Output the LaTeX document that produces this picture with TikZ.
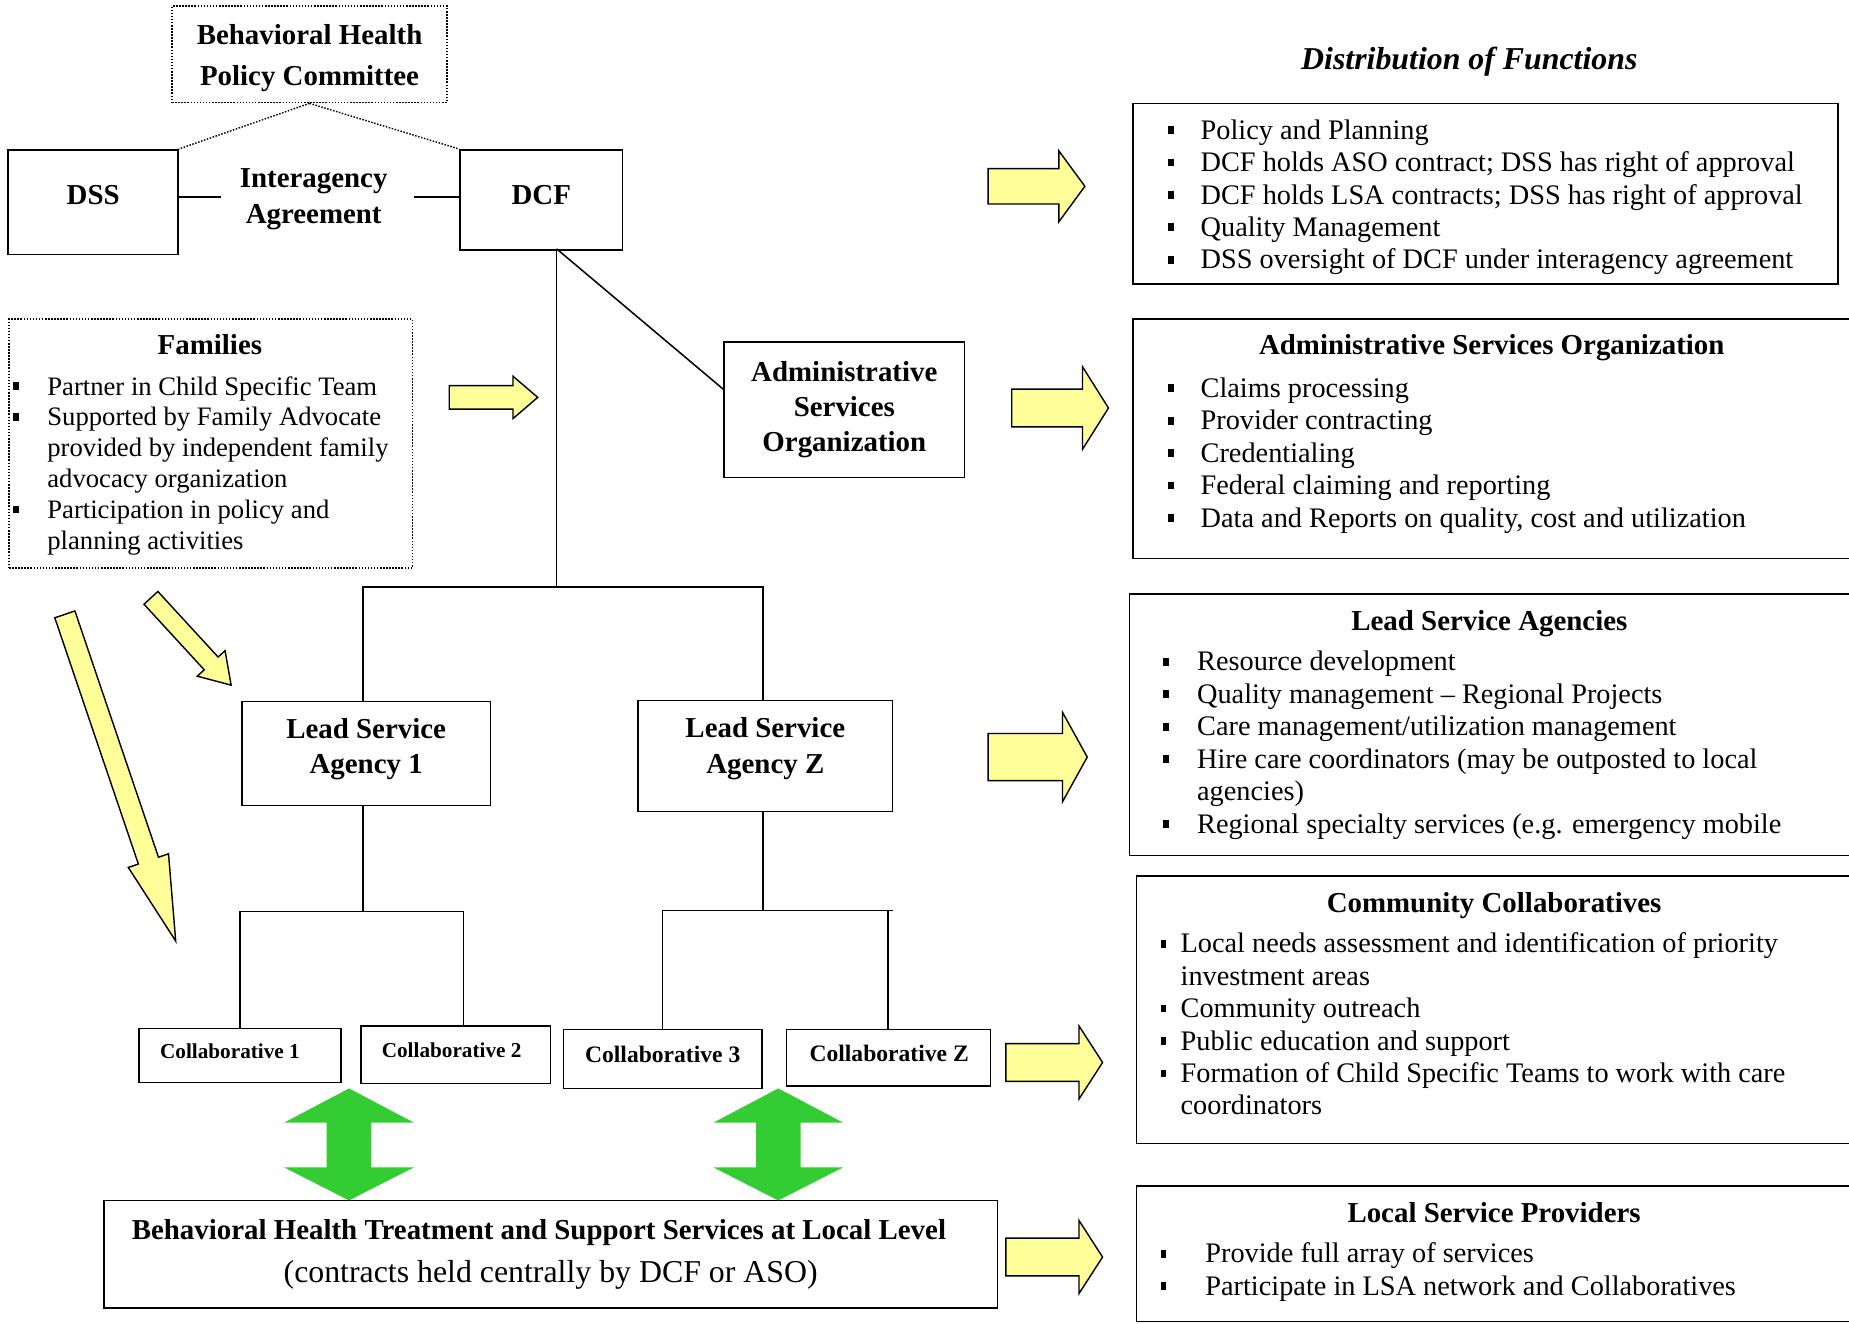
\documentclass[tikz,border=0pt]{standalone}
\usepackage{fontspec}
\setmainfont{Liberation Serif}
\usetikzlibrary{calc}
\definecolor{ayel}{HTML}{FFFF99}
\definecolor{agrn}{HTML}{33CC33}
\newcommand{\bsq}{\rule[4.5pt]{5pt}{6.5pt}}
\newcommand{\yarr}[6]{%
  \coordinate (#1t) at #2;
  \coordinate (#1p) at #3;
  \coordinate (#1h) at ($(#1p)!#6!(#1t)$);
  \draw[yarrow] ($(#1t)!#4!90:(#1p)$) -- ($(#1h)!#4!90:(#1p)$) -- ($(#1h)!#5!90:(#1p)$) -- (#1p) -- ($(#1h)!#5!-90:(#1p)$) -- ($(#1h)!#4!-90:(#1p)$) -- ($(#1t)!#4!-90:(#1p)$) -- cycle;}
\newcommand{\garr}[2]{%
  \coordinate (#1) at (#2,970);
  \fill[agrn] ($(#1)+(0,-47)$) -- ++(55,29) -- ++(-36,0) -- ++(0,38) -- ++(36,0) -- ($(#1)+(0,48)$) -- ++(-55,-28) -- ++(36,0) -- ++(0,-38) -- ++(-36,0) -- cycle;}
\begin{document}
\begin{tikzpicture}[x=1pt,y=-1pt,
  box/.style={draw, line width=1.3pt, inner sep=0pt, align=center},
  dotbox/.style={draw, line width=1.3pt, dash pattern=on 1.3pt off 1.3pt, inner sep=0pt, align=center},
  dotline/.style={line width=1.2pt, dash pattern=on 1.3pt off 1.3pt},
  conn/.style={line width=1.3pt},
  bf/.style={font=\fontsize{24.5}{30}\selectfont\bfseries, align=center, inner sep=0pt},
  body/.style={font=\fontsize{24}{27.5}\selectfont},
  lst/.style={anchor=base west, inner sep=0pt, body},
  ttl/.style={anchor=base, inner sep=0pt, bf},
  cs/.style={font=\fontsize{18}{22}\selectfont\bfseries, inner sep=0pt},
  cl/.style={font=\fontsize{20}{24}\selectfont\bfseries, inner sep=0pt},
  yarrow/.style={fill=ayel, draw=black, line width=1.2pt, line join=miter}]
\useasboundingbox (0,0) rectangle (1568,1122);

% ---- left org chart ----
\node[dotbox, minimum width=233pt, minimum height=82pt] (bhpc) at (262.5,46) {};
\node[bf, font=\fontsize{24.5}{35}\selectfont\bfseries] (bhpct) at (262.5,49.5) {Behavioral Health\\Policy Committee};
\node[box, minimum width=144pt, minimum height=89pt] (dss) at (79,171.5) {};
\node[bf] (dsst) at (79,165.5) {DSS};
\node[box, minimum width=138pt, minimum height=85pt] (dcf) at (459,169.5) {};
\node[bf] (dcft) at (459,165.5) {DCF};
\coordinate (iaw) at (187,167);
\coordinate (iae) at (351,167);
\node[bf] (ia) at (266,169) {Interagency\\Agreement};
\draw[conn] (iaw) -- (iaw -| dss.east);
\draw[conn] (iae) -- (iae -| dcf.west);
\draw[dotline] (bhpc.south) -- (dss.north east);
\draw[dotline] (bhpc.south) -- (dcf.north west);

\node[box, font=\fontsize{24.5}{29.5}\selectfont\bfseries, minimum width=204pt, minimum height=115pt] (aso) at (716,347.5) {Administrative\\Services\\Organization};
\node[box, minimum width=211pt, minimum height=88pt] (lsa1) at (310.5,639) {};
\node[bf] (lsa1t) at (310.5,635.5) {Lead Service\\Agency 1};
\node[box, minimum width=216pt, minimum height=94pt] (lsaz) at (649,641) {};
\node[bf] (lsazt) at (649,635) {Lead Service\\Agency Z};

\coordinate (dcfb) at (472,211);
\coordinate (bus) at (472,498);
\draw[conn] (dcfb) -- (bus);
\draw[conn] (dcfb) -- ($(aso.north west)!0.35!(aso.south west)$);
\coordinate (lsa1top) at (308,595);
\coordinate (lsaztop) at (647,594);
\draw[conn] (lsa1top) |- (bus) -| (lsaztop);

\node[box, minimum width=171pt, minimum height=46pt] (c1) at (203.5,895) {};
\node[cs] (c1t) at (195,891.5) {Collaborative 1};
\node[box, minimum width=161pt, minimum height=49pt] (c2) at (386.5,894.5) {};
\node[cs] (c2t) at (383,890.5) {Collaborative 2};
\node[box, minimum width=168pt, minimum height=50pt] (c3) at (562,898) {};
\node[cl] (c3t) at (562,894) {Collaborative 3};
\node[box, minimum width=173pt, minimum height=48pt] (cz) at (753.5,897) {};
\node[cl] (czt) at (754,893.5) {Collaborative Z};

\coordinate (b1) at (308,773);
\coordinate (bz) at (647,772);
\coordinate (c2top) at (393,870);
\coordinate (cztop) at (753,873);
\draw[conn] (lsa1top |- lsa1.south) -- (b1);
\draw[conn] (c1.north) |- (b1) -| (c2top);
\draw[conn] (lsaztop |- lsaz.south) -- (bz);
\draw[conn] (c3.north) |- (bz) -- ++(110,0);
\draw[conn] (cztop) -- (cztop |- bz);

\node[box, minimum width=758pt, minimum height=91pt] (bhts) at (467,1063.5) {};
\node[ttl] (bt1) at (457,1051) {Behavioral Health Treatment and Support Services at Local Level};
\node[anchor=base, inner sep=0pt, font=\fontsize{27}{30}\selectfont] (bt2) at (467,1088) {(contracts held centrally by DCF or ASO)};

\garr{g1}{296}
\garr{g2}{660}

% ---- families ----
\node[dotbox, minimum width=342pt, minimum height=211pt, anchor=north west] (fam) at (7,270) {};
\node[ttl] (famt) at (178,301) {Families};
\node[anchor=base west, inner sep=0pt, font=\fontsize{22.6}{26.2}\selectfont] (faml) at (11,335) {\begin{tabular}[t]{@{}p{29pt}@{}l@{}}
\bsq & Partner in Child Specific Team\\
\bsq & Supported by Family Advocate\\
 & provided by independent family\\
 & advocacy organization\\
\bsq & Participation in policy and\\
 & planning activities
\end{tabular}};

% ---- yellow arrows ----
\yarr{a1}{(838,158)}{(920,158)}{15pt}{30pt}{22pt}
\yarr{a2}{(381,337)}{(456,337)}{10pt}{18pt}{21pt}
\yarr{a3}{(858,346)}{(940,346)}{16pt}{35pt}{22pt}
\yarr{a4}{(838,642)}{(922,642)}{20pt}{38pt}{21pt}
\yarr{a5}{(853,901)}{(935,901)}{16pt}{31pt}{20pt}
\yarr{a6}{(853,1066)}{(935,1066)}{16pt}{31pt}{20pt}
\yarr{a7}{(128,507)}{(196,581)}{8pt}{16pt}{25pt}
\yarr{a8}{(55,521)}{(149,798)}{9pt}{18pt}{72pt}

% ---- right column ----
\node[anchor=base, inner sep=0pt, font=\fontsize{27}{30}\selectfont\bfseries\itshape] (dof) at (1246,59) {Distribution of Functions};

\node[box, minimum width=598pt, minimum height=153pt, anchor=north west] (r1) at (960,87) {};
\node[lst] (r1l) at (990,118) {\begin{tabular}[t]{@{}p{28pt}@{}l@{}}
\bsq & Policy and Planning\\
\bsq & DCF holds ASO contract; DSS has right of approval\\
\bsq & DCF holds LSA contracts; DSS has right of approval\\
\bsq & Quality Management\\
\bsq & DSS oversight of DCF under interagency agreement
\end{tabular}};

\node[box, minimum width=620pt, minimum height=203pt, anchor=north west] (r2) at (960,270) {};
\node[ttl] (r2t) at (1265,301) {Administrative Services Organization};
\node[lst] (r2l) at (990,337) {\begin{tabular}[t]{@{}p{28pt}@{}l@{}}
\bsq & Claims processing\\
\bsq & Provider contracting\\
\bsq & Credentialing\\
\bsq & Federal claiming and reporting\\
\bsq & Data and Reports on quality, cost and utilization
\end{tabular}};

\node[box, minimum width=623pt, minimum height=222pt, anchor=north west] (r3) at (957,503) {};
\node[ttl] (r3t) at (1263,535) {Lead Service Agencies};
\node[lst] (r3l) at (986,569) {\begin{tabular}[t]{@{}p{29pt}@{}l@{}}
\bsq & Resource development\\
\bsq & Quality management -- Regional Projects\\
\bsq & Care management/utilization management\\
\bsq & Hire care coordinators (may be outposted to local\\
 & agencies)\\
\bsq & Regional specialty services (e.g. emergency mobile
\end{tabular}};

\node[box, minimum width=617pt, minimum height=227pt, anchor=north west] (r4) at (963,742) {};
\node[ttl] (r4t) at (1267,774) {Community Collaboratives};
\node[lst] (r4l) at (984,808) {\begin{tabular}[t]{@{}p{17pt}@{}l@{}}
\bsq & Local needs assessment and identification of priority\\
 & investment areas\\
\bsq & Community outreach\\
\bsq & Public education and support\\
\bsq & Formation of Child Specific Teams to work with care\\
 & coordinators
\end{tabular}};

\node[box, minimum width=617pt, minimum height=115pt, anchor=north west] (r5) at (963,1005) {};
\node[ttl] (r5t) at (1267,1037) {Local Service Providers};
\node[lst] (r5l) at (984,1071) {\begin{tabular}[t]{@{}p{38pt}@{}l@{}}
\bsq & Provide full array of services\\
\bsq & Participate in LSA network and Collaboratives
\end{tabular}};
\end{tikzpicture}
\end{document}
